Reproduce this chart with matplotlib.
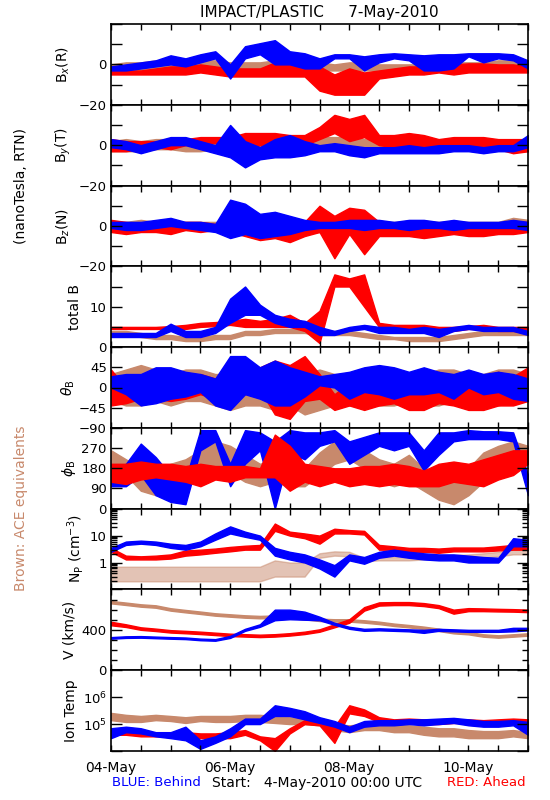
# STEREO IMPACT/PLASTIC summary plot, 4-May-2010 to 11-May-2010
import pandas as pd
import matplotlib
matplotlib.use('Agg')
import matplotlib.pyplot as plt
import matplotlib.dates as mdates
from matplotlib.ticker import FixedLocator, FixedFormatter, LogLocator, NullFormatter, NullLocator

BLUE = '#0000ff'    # STEREO Behind
RED = '#ff0000'     # STEREO Ahead
BROWN = '#c8896c'   # ACE

times = pd.date_range('2010-05-04 00:00', '2010-05-11 00:00', freq='6h')

# Bx (R), nT
bx_blue_lo = [-3, -3, -2, -1, 0, -1, 1, 3, -7, 3, 5, 0, 0, -2, -2, 3, 3, -3, 1, 3, 2, -3, -3, -2, 4, 1, 3, 2, -2]
bx_blue_hi = [-1, 0, 1, 2, 4.5, 3, 5, 6.5, 0, 9, 10.5, 12, 6.5, 5.5, 3, 5, 5, 4, 5, 5.5, 5, 4.5, 5, 5, 5.5, 5.5, 5.5, 5, 2]
bx_red_lo = [-5, -5, -5, -5, -5, -5, -4, -5, -6, -6, -6, -6, -6, -6, -13, -15, -15, -15, -7, -6, -5, -5, -4, -5, -4, -4, -4, -4, -4]
bx_red_hi = [-2, -3, -3, -2, -1, -1, 0, -1, -2, -2, -2, 1, 0, 0, -1, -5, -2, -4, -3, -2, -1, -1, 0, 0, 0.5, 0.5, 0, 0, -1]
bx_ace_lo = [-3, -3, -3, -2, -2, -3, -2, -2, -3, -3, -3, -4, -4, -4, -3, -3, -3, -3, -3, -3, -3, -3, -3, -3, -2, -2, -2, -2, -2]
bx_ace_hi = [0, 1, 1, 2, 2, 1, 2, 2, 1, 1, 1, 2, 2, 2, 1, 0, 1, 1, 0, 0, 0, 0, 1, 1, 1, 1, 2, 2, 2]

# By (T), nT
by_blue_lo = [-1, -2, -4, -2, 0, 0, -2, -4, -6, -11, -7, -6, -6, -5, -3, -3, -5, -6, -4, -4, -4, -4, -4, -3, -3, -4, -3, -3, -1]
by_blue_hi = [3, 2, 0, 2, 4, 4, 2, 0, 10, 2, -1, 3, 5, 2, 0, 1, 0, -1, -1, -1, 0, -1, 0, 0, 0, -1, 0, 0, 5]
by_red_lo = [-3, -3, -2, -1, -2, 0, 1, 1, 0, -2, 0, -3, -3, 0, 3, 6, 2, 4, 0, -1, -1, -1, -2, -2, -2, -2, -2, -4, -3]
by_red_hi = [3, 2, 2, 2, 2, 3, 4, 4, 4, 6, 6, 6, 5, 5, 9, 15, 13, 15, 5, 5, 6, 5, 3, 4, 4, 4, 3, 3, 3]
by_ace_lo = [-3, -3, -3, -2, -2, -3, -3, -2, -2, -2, -2, -1, -1, -1, -1, -1, -1, -1, -2, -2, -2, -2, -2, -2, -2, -2, -2, -3, -3]
by_ace_hi = [2, 3, 2, 3, 3, 2, 2, 2, 2, 2, 3, 3, 3, 3, 4, 4, 4, 3, 2, 2, 2, 2, 2, 2, 2, 2, 2, 2, 2]

# Bz (N), nT
bz_blue_lo = [-1, -2, -2, -1, 0, -1, -2, -3, -6, -4, -6, -5, -4, -2, -1, -1, -1, -2, -1, -1, -2, -1, -1, -2, -1, -1, -1, -1, -2]
bz_blue_hi = [2, 2, 2, 3, 4, 2, 2, 1, 13, 11, 6, 7, 5, 3, 2, 2, 3, 3, 3, 2, 3, 3, 2, 3, 2, 2, 2, 3, 2]
bz_red_lo = [-3, -4, -3, -3, -4, -2, -3, -2, -3, -5, -7, -6, -8, -5, -3, -16, -4, -14, -5, -5, -5, -6, -5, -4, -5, -5, -4, -4, -3]
bz_red_hi = [3, 2, 1, 2, 1, 2, 2, 1, 2, 4, 3, 6, 4, 2, 10, 5, 9, 8, 2, 1, 2, 2, 1, 2, 1, 1, 1, 2, 2]
bz_ace_lo = [-2, -2, -2, -2, -2, -2, -2, -2, -2, -3, -3, -3, -3, -3, -3, -3, -3, -2, -2, -2, -2, -2, -2, -2, -2, -2, -2, -2, -2]
bz_ace_hi = [2, 2, 3, 2, 2, 2, 2, 2, 2, 3, 3, 3, 2, 2, 2, 2, 2, 2, 2, 2, 2, 2, 2, 2, 2, 2, 2, 4, 3]

# total B, nT
bt_blue_lo = [2.5, 2.5, 2.5, 2.5, 4, 2.5, 2.5, 3.5, 6, 8, 8, 6, 5, 5, 3, 3, 4, 4.5, 3.5, 3.5, 3.5, 3.5, 2.5, 4, 4.5, 4, 4, 4, 3]
bt_blue_hi = [3.5, 3.5, 3.5, 3.5, 5.8, 4, 4, 5, 12, 15, 10.5, 8, 7, 6.5, 5, 4, 5, 5.5, 5, 5, 4.5, 5, 4.5, 5, 5.5, 5, 5, 5, 4]
bt_red_lo = [4.5, 4.5, 4.5, 4.5, 4.5, 4.5, 5, 5.2, 5.5, 5, 5, 5, 5, 4, 1, 15, 15, 10, 5, 4.5, 4.5, 4, 4, 4, 4.5, 4.5, 4, 4, 3.5]
bt_red_hi = [5, 5, 5, 5, 5.2, 5.5, 6, 6.2, 6.5, 7, 6.5, 7, 8, 6, 9, 18, 17, 18, 6, 5.5, 5.5, 5.5, 5, 5, 5.2, 5.5, 5, 5, 5]
bt_ace_lo = [3, 3, 2.5, 2, 2, 1.5, 1.5, 2, 2, 3, 3, 3.5, 3.5, 3.5, 3, 3, 3, 2.5, 2, 2, 1.5, 1.5, 1.5, 2, 2.5, 3, 3, 3, 3]
bt_ace_hi = [4, 4, 3.5, 3, 3, 2.5, 2.5, 3, 3, 4, 4, 4.5, 4.5, 4.5, 4, 4, 4, 3.5, 3, 2.5, 2.5, 2.5, 2.5, 3, 3.5, 4, 4, 4, 4]

# theta_B, deg
th_blue_lo = [0, -15, -40, -35, -25, -20, -10, -40, -50, -15, -25, -40, -40, -20, 5, 0, -25, -10, -15, -25, -15, -15, -10, -25, 0, -15, -10, -25, -30]
th_blue_hi = [25, 30, 30, 45, 45, 35, 30, 20, 70, 70, 45, 60, 45, 35, 25, 30, 35, 45, 50, 45, 35, 45, 35, 30, 40, 30, 35, 30, 20]
th_red_lo = [-40, -35, -25, -25, -30, -25, -15, -25, -15, -15, -5, -60, -70, -30, -25, -50, -40, -50, -40, -35, -50, -50, -35, -40, -50, -50, -40, -40, -30]
th_red_hi = [40, 0, 15, 5, 15, 20, 30, 20, 40, 30, 45, 60, 50, 70, 30, -15, 10, 25, 15, 25, 15, 25, 35, 20, 25, 25, 35, 25, 45]
th_ace_lo = [-30, -40, -40, -30, -40, -30, -30, -40, -50, -40, -40, -50, -40, -60, -50, -40, -40, -30, -40, -40, -30, -40, -40, -30, -30, -40, -40, -30, -30]
th_ace_hi = [30, 40, 50, 40, 30, 40, 40, 30, 30, 40, 40, 40, 50, 30, 40, 30, 30, 40, 30, 30, 30, 30, 40, 40, 30, 30, 40, 40, 30]

# phi_B, deg
ph_blue_lo = [100, 100, 150, 60, 30, 20, 260, 300, 100, 200, 260, 0, 250, 220, 280, 300, 200, 240, 280, 260, 280, 170, 240, 300, 310, 310, 310, 300, 60]
ph_blue_hi = [170, 200, 290, 230, 150, 130, 350, 350, 200, 350, 340, 300, 350, 340, 340, 350, 300, 320, 340, 340, 340, 260, 340, 340, 350, 345, 345, 340, 150]
ph_red_lo = [120, 110, 130, 140, 130, 120, 100, 130, 120, 140, 140, 140, 80, 120, 100, 120, 100, 110, 100, 110, 100, 100, 100, 120, 110, 100, 130, 150, 200]
ph_red_hi = [200, 200, 210, 200, 200, 190, 200, 190, 190, 190, 180, 330, 280, 200, 190, 180, 180, 190, 190, 200, 190, 170, 200, 210, 200, 220, 240, 260, 260]
ph_ace_lo = [180, 150, 80, 60, 90, 120, 150, 180, 160, 120, 100, 120, 100, 100, 150, 200, 220, 180, 120, 100, 120, 80, 40, 20, 60, 120, 150, 180, 200]
ph_ace_hi = [260, 220, 180, 160, 200, 220, 260, 300, 280, 240, 200, 220, 200, 180, 250, 300, 290, 260, 220, 200, 240, 180, 150, 120, 180, 250, 280, 300, 280]

# proton density, cm^-3
np_blue_lo = [2.5, 4.5, 5, 4.5, 3.5, 3, 4, 7, 12, 9, 7, 1.8, 1.3, 1, 0.6, 0.3, 1.2, 0.9, 1.5, 1.8, 1.5, 1.3, 1.2, 1.2, 1, 1, 1, 4, 4]
np_blue_hi = [3.5, 6, 6.5, 6, 5, 4.5, 6, 12, 22, 14, 10, 3.5, 2.5, 2, 1.3, 0.8, 2, 1.6, 2.5, 3, 2.5, 2.2, 2, 2, 1.8, 1.6, 1.5, 8, 7]
np_red_lo = [2.5, 1.3, 1.3, 1.3, 1.4, 1.8, 2, 2.3, 2.6, 3, 3, 15, 10, 8, 5, 12, 12, 11, 3, 3, 2.5, 2.5, 2.3, 2.6, 2.6, 2.6, 2.8, 3, 3]
np_red_hi = [3.5, 1.8, 1.7, 1.8, 2, 2.8, 3, 3.3, 3.8, 4.2, 4.5, 28, 14, 12, 10, 18, 16, 15, 4.5, 4, 3.5, 3.5, 3.3, 3.6, 3.6, 3.6, 4, 4.5, 5]
np_ace_lo = [0.2, 0.2, 0.2, 0.2, 0.2, 0.2, 0.2, 0.2, 0.2, 0.2, 0.2, 0.3, 0.3, 0.3, 1.5, 1.8, 1.7, 1.1, 1.2, 1.2, 1.2, 1.3, 1.3, 1.4, 1.4, 1.5, 1.7, 2, 2]
np_ace_hi = [0.7, 0.7, 0.7, 0.7, 0.7, 0.7, 0.7, 0.7, 0.7, 0.7, 0.7, 1.2, 1.0, 1.0, 2.2, 2.6, 2.5, 1.5, 1.6, 1.6, 1.6, 1.8, 1.8, 1.9, 2, 2.2, 2.5, 3, 3]

# bulk speed, km/s
v_blue_lo = [312, 320, 322, 317, 312, 308, 297, 292, 320, 390, 430, 495, 505, 500, 495, 450, 410, 390, 395, 390, 385, 370, 390, 385, 380, 380, 380, 385, 395]
v_blue_hi = [328, 336, 338, 333, 328, 324, 313, 308, 340, 410, 455, 600, 600, 580, 530, 470, 430, 410, 415, 410, 405, 400, 410, 405, 400, 400, 400, 420, 420]
v_red_lo = [445, 428, 400, 388, 373, 366, 358, 348, 338, 333, 328, 333, 343, 358, 381, 425, 470, 590, 640, 645, 645, 635, 615, 560, 585, 585, 582, 580, 575]
v_red_hi = [480, 455, 425, 412, 397, 390, 382, 372, 362, 357, 352, 357, 367, 382, 405, 455, 505, 625, 672, 675, 675, 665, 645, 600, 615, 612, 608, 605, 600]
v_ace_lo = [662, 646, 629, 619, 590, 573, 557, 540, 530, 520, 514, 518, 514, 504, 487, 481, 481, 471, 457, 438, 424, 408, 388, 365, 355, 332, 322, 332, 342]
v_ace_hi = [686, 670, 653, 643, 614, 597, 581, 564, 554, 544, 538, 542, 538, 528, 511, 505, 505, 495, 481, 462, 448, 432, 412, 389, 379, 356, 346, 356, 366]

# ion temperature, K
t_blue_lo = [3e4, 5e4, 4.5e4, 3.5e4, 3e4, 2.5e4, 1.2e4, 2e4, 3.5e4, 1e5, 1e5, 2e5, 2e5, 1.5e5, 1.1e5, 8e4, 5e4, 8e4, 9e4, 9e4, 1e5, 9e4, 1e5, 1.1e5, 9e4, 8e4, 8e4, 9e4, 4e4]
t_blue_hi = [7e4, 8e4, 7e4, 5e4, 5e4, 8e4, 2.5e4, 3.5e4, 7e4, 1.6e5, 1.6e5, 5e5, 4e5, 3e5, 1.8e5, 1.3e5, 8e4, 1.3e5, 1.4e5, 1.4e5, 1.5e5, 1.5e5, 1.6e5, 1.7e5, 1.5e5, 1.3e5, 1.3e5, 1.4e5, 1.2e5]
t_red_lo = [4e4, 4e4, 3.5e4, 3.5e4, 3.5e4, 3e4, 3e4, 3e4, 3e4, 4e4, 2.5e4, 1e4, 4.5e4, 1e5, 9e4, 2e4, 2.5e5, 2e5, 1.2e5, 1e5, 1.1e5, 1e5, 1e5, 1.1e5, 1.1e5, 1e5, 1.1e5, 1.1e5, 1e5]
t_red_hi = [6e4, 6e4, 5e4, 5e4, 5e4, 5e4, 4.5e4, 4.5e4, 5e4, 6e4, 3.5e4, 3e4, 7e4, 1.4e5, 1.3e5, 8e4, 5e5, 3.5e5, 1.8e5, 1.5e5, 1.6e5, 1.5e5, 1.5e5, 1.5e5, 1.5e5, 1.4e5, 1.5e5, 1.6e5, 1.5e5]
t_ace_lo = [1.4e5, 1.2e5, 1.2e5, 1.4e5, 1.3e5, 1.1e5, 1.3e5, 1.2e5, 1.2e5, 1.3e5, 1.2e5, 1.1e5, 1e5, 1e5, 9e4, 6e4, 5e4, 6e4, 6e4, 5e4, 5e4, 4e4, 3.5e4, 3.5e4, 3e4, 3e4, 3e4, 3.5e4, 3e4]
t_ace_hi = [2.6e5, 2.2e5, 2e5, 2.2e5, 2e5, 1.8e5, 2e5, 2e5, 2e5, 2.2e5, 2.2e5, 2e5, 1.8e5, 1.6e5, 1.5e5, 1e5, 9e4, 1e5, 1e5, 9e4, 9e4, 8e4, 7e4, 7e4, 6e4, 5.5e4, 5.5e4, 6e4, 5e4]

# panel settings: label, label x (px), traces (drawn in order), ylim, log?, major ticks, tick labels
panels = [
    (r'B$_x$(R)', 63, [(bx_ace_lo, bx_ace_hi, BROWN), (bx_red_lo, bx_red_hi, RED), (bx_blue_lo, bx_blue_hi, BLUE)],
     (-20, 20), False, [-20, -10, 0, 10, 20], ['\u221220', '', '0', '', '']),
    (r'B$_y$(T)', 63, [(by_ace_lo, by_ace_hi, BROWN), (by_red_lo, by_red_hi, RED), (by_blue_lo, by_blue_hi, BLUE)],
     (-20, 20), False, [-20, -10, 0, 10, 20], ['\u221220', '', '0', '', '']),
    (r'B$_z$(N)', 63, [(bz_ace_lo, bz_ace_hi, BROWN), (bz_red_lo, bz_red_hi, RED), (bz_blue_lo, bz_blue_hi, BLUE)],
     (-20, 20), False, [-20, -10, 0, 10, 20], ['\u221220', '', '0', '', '']),
    ('total B', 75, [(bt_ace_lo, bt_ace_hi, BROWN), (bt_red_lo, bt_red_hi, RED), (bt_blue_lo, bt_blue_hi, BLUE)],
     (0, 20), False, [0, 5, 10, 15, 20], ['0', '', '10', '', '']),
    (r'$\theta_{\rm B}$', 68, [(th_ace_lo, th_ace_hi, BROWN), (th_red_lo, th_red_hi, RED), (th_blue_lo, th_blue_hi, BLUE)],
     (-90, 90), False, [-90, -45, 0, 45, 90], ['\u221290', '\u221245', '0', '45', '']),
    (r'$\phi_{\rm B}$', 69, [(ph_ace_lo, ph_ace_hi, BROWN), (ph_blue_lo, ph_blue_hi, BLUE), (ph_red_lo, ph_red_hi, RED)],
     (0, 360), False, [0, 90, 180, 270, 360], ['0', '90', '180', '270', '']),
    (r'N$_{\rm P}$ (cm$^{-3}$)', 75, [(np_ace_lo, np_ace_hi, BROWN), (np_red_lo, np_red_hi, RED), (np_blue_lo, np_blue_hi, BLUE)],
     (0.1, 100), True, [0.1, 1, 10, 100], ['', '1', '10', '']),
    ('V (km/s)', 70, [(v_ace_lo, v_ace_hi, BROWN), (v_red_lo, v_red_hi, RED), (v_blue_lo, v_blue_hi, BLUE)],
     (0, 800), False, [0, 400, 800], ['0', '400', '']),
    ('Ion Temp', 71, [(t_ace_lo, t_ace_hi, BROWN), (t_red_lo, t_red_hi, RED), (t_blue_lo, t_blue_hi, BLUE)],
     (1e4, 1e7), True, [1e4, 1e5, 1e6, 1e7], ['', '10$^5$', '10$^6$', '']),
]

W, H = 550, 800
fig = plt.figure(figsize=(W / 100, H / 100), dpi=100)
left, right, top, bottom = 111, 528, 24, 751
ph = (bottom - top) / len(panels)

for i, (label, lx, traces, ylim, logy, ticks, ticklabels) in enumerate(panels):
    y0 = top + i * ph
    ax = fig.add_axes([left / W, 1 - (y0 + ph) / H, (right - left) / W, ph / H])
    for lo, hi, c in traces:
        # ACE density comes as sparse quantised dots, so draw it lighter
        a = 0.5 if (i == 6 and c == BROWN) else 1.0
        ax.fill_between(times, lo, hi, color=c, lw=1.0, alpha=a)
    if logy:
        ax.set_yscale('log')
    ax.set_ylim(*ylim)
    ax.set_xlim(times[0], times[-1])
    ax.yaxis.set_major_locator(FixedLocator(ticks))
    ax.yaxis.set_major_formatter(FixedFormatter(ticklabels))
    if i == 6:
        ax.yaxis.set_minor_locator(LogLocator(base=10, subs=range(2, 10)))
        ax.yaxis.set_minor_formatter(NullFormatter())
    elif i == 7:
        ax.yaxis.set_minor_locator(FixedLocator([100, 200, 300, 500, 600, 700]))
    else:
        ax.yaxis.set_minor_locator(NullLocator())
    ax.xaxis.set_major_locator(mdates.DayLocator(bymonthday=[4, 6, 8, 10]))
    ax.xaxis.set_minor_locator(mdates.HourLocator(byhour=[0, 12]))
    ax.xaxis.set_major_formatter(mdates.DateFormatter('%d-%b'))
    ax.tick_params(axis='y', which='major', direction='in', length=8, width=1,
                   right=True, labelsize=9.5, pad=3)
    ax.tick_params(axis='y', which='minor', direction='in', length=4, width=1, right=True)
    ax.tick_params(axis='x', which='both', direction='in', length=4, width=1,
                   top=True, labelsize=10, pad=7)
    if i < len(panels) - 1:
        ax.tick_params(axis='x', labelbottom=False)
    for s in ax.spines.values():
        s.set_linewidth(1.2)
    fig.text(lx / W, 1 - (y0 + ph / 2) / H, label, rotation=90, ha='center', va='center', fontsize=10)

fig.text(319.5 / W, 1 - 12 / H, 'IMPACT/PLASTIC     7-May-2010', ha='center', va='center', fontsize=11)
fig.text(21 / W, 1 - 186 / H, '(nanoTesla, RTN)', rotation=90, ha='center', va='center', fontsize=10)
fig.text(21 / W, 1 - 508 / H, 'Brown: ACE equivalents', rotation=90, ha='center', va='center',
         fontsize=10, color=BROWN)
fig.text(112 / W, 1 - 783 / H, 'BLUE: Behind', ha='left', va='center', fontsize=9.5, color=BLUE)
fig.text(212 / W, 1 - 783 / H, 'Start:   4-May-2010 00:00 UTC', ha='left', va='center', fontsize=10)
fig.text(526 / W, 1 - 783 / H, 'RED: Ahead', ha='right', va='center', fontsize=9.5, color=RED)

fig.savefig('out.png', dpi=100)
